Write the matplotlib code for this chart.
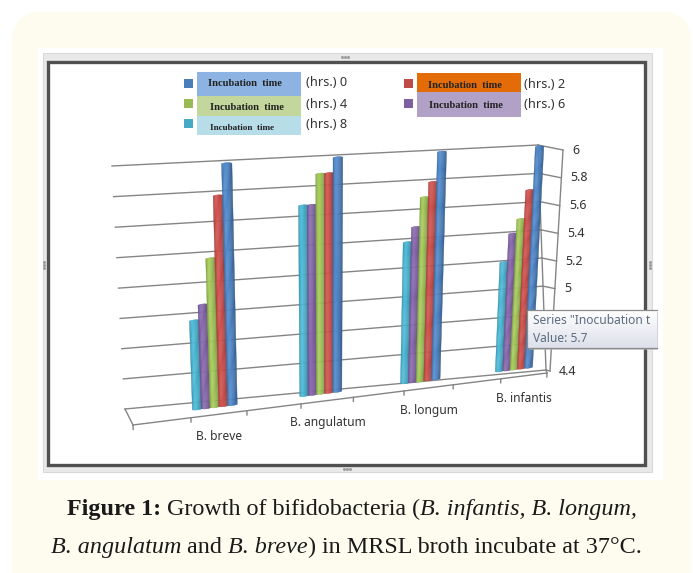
import numpy as np
import matplotlib
matplotlib.use('Agg')
import matplotlib.pyplot as plt
from matplotlib.patches import FancyBboxPatch, Rectangle
from matplotlib.transforms import Transform

# Datos
categories = ['B. breve', 'B. angulatum', 'B. longum', 'B. infantis']
hours = [8, 6, 4, 2, 0]
values_8 = [5.0, 5.7, 5.4, 5.2]
values_6 = [5.1, 5.7, 5.5, 5.4]
values_4 = [5.4, 5.9, 5.7, 5.5]
values_2 = [5.8, 5.9, 5.8, 5.7]
values_0 = [6.0, 6.0, 6.0, 6.0]
series = [values_8, values_6, values_4, values_2, values_0]
colors = ['#46aac5', '#7d60a0', '#98b954', '#be4b48', '#4a7ebb']

y_ticks = [4.4, 4.6, 4.8, 5.0, 5.2, 5.4, 5.6, 5.8, 6.0]
y_labels = ['4.4', '', '', '5', '5.2', '5.4', '5.6', '5.8', '6']
y_min, y_max = 4.4, 6.0
n_ticks = 8  # marcas del eje x (dos por categoria)


class Quad(Transform):
    # homografia: (u, v) en el rectangulo -> cuadrilatero en pixeles
    input_dims = 2
    output_dims = 2
    is_separable = False
    has_inverse = False

    def __init__(self, u_range, v_range, corners):
        super().__init__()
        src = [(u_range[0], v_range[1]), (u_range[0], v_range[0]),
               (u_range[1], v_range[0]), (u_range[1], v_range[1])]
        a, b = [], []
        for (u, v), (x, y) in zip(src, corners):
            a.append([u, v, 1, 0, 0, 0, -u * x, -v * x])
            a.append([0, 0, 0, u, v, 1, -u * y, -v * y])
            b += [x, y]
        self.h = np.append(np.linalg.solve(np.array(a), np.array(b)), 1).reshape(3, 3)

    def transform_non_affine(self, values):
        pts = np.column_stack([values, np.ones(len(values))]) @ self.h.T
        return pts[:, :2] / pts[:, 2:]


fig = plt.figure(figsize=(6.93, 5.73), dpi=100, facecolor='white')
ax = fig.add_axes([0, 0, 1, 1])
ax.set_xlim(0, 693)
ax.set_ylim(573, 0)
ax.set_autoscale_on(False)
ax.axis('off')

sans = 'Noto Sans'
serif = 'Liberation Serif'

# fondo y marco de la captura
ax.add_patch(FancyBboxPatch((42, 42), 619, 600, boxstyle='round,pad=30,rounding_size=30',
                            fc='#fefcee', ec='none', zorder=0))
ax.add_patch(Rectangle((38, 48), 625, 432, fc='white', ec='none', zorder=1))
ax.add_patch(Rectangle((43, 53), 609, 419, fc='#e9e9e9', ec='#d8d8d8', lw=0.8, zorder=1))
ax.add_patch(Rectangle((48, 62), 597, 403, fc='white', ec='#505050', lw=2.4, zorder=1))
for hx, hy in [(345, 57), (347, 469)]:
    ax.plot([hx - 3, hx, hx + 3], [hy] * 3, ls='none', marker='s', ms=1, color='#9a9a9a', zorder=2)
for hx, hy in [(44, 265), (650, 265)]:
    ax.plot([hx] * 3, [hy - 3, hy, hy + 3], ls='none', marker='s', ms=1, color='#9a9a9a', zorder=2)

wall_quad = Quad((0, n_ticks), (y_min, y_max), [(112, 166), (125, 409), (546, 370), (538, 145)])
wall = wall_quad + ax.transData
floor = Quad((0, n_ticks), (y_min, y_max), [(122, 177), (133, 425), (547, 373), (560, 154)]) + ax.transData
plane = Quad((0, n_ticks), (y_min, y_max), [(120, 169.7), (132, 417), (537.5, 366), (549, 146.5)]) + ax.transData

grid = '#858585'
side_ends = []
for val, lab in zip(y_ticks, y_labels):
    ax.plot([0, n_ticks], [val, val], color=grid, lw=1, transform=wall, zorder=2)
    # pared lateral: sale de la esquina hasta la marca del eje
    cx, cy = wall_quad.transform_non_affine(np.array([[n_ticks, val]]))[0]
    f = (val - y_min) / (y_max - y_min)
    ex, ey = cx + 4 + 21 * f, cy + 1 + 4 * f
    side_ends.append((ex, ey))
    ax.plot([cx, ex], [cy, ey], color=grid, lw=1, zorder=2)
    if lab:
        ax.text(ex + 9, ey, lab, ha='left', va='center', fontsize=9, family=sans, color='#333333', zorder=3)

# pared derecha y suelo
ax.plot([n_ticks, n_ticks], [y_min, y_max], color=grid, lw=1, transform=wall, zorder=2)
ax.plot([p[0] for p in side_ends], [p[1] for p in side_ends], color=grid, lw=1, zorder=2)
ax.plot([125, 133], [409, 425], color=grid, lw=1, zorder=2)
ax.plot([546, 547], [370, 373], color=grid, lw=1, zorder=2)
ax.plot([0, n_ticks], [y_min, y_min], color=grid, lw=1, transform=floor, zorder=2)
for t in range(n_ticks + 1):
    ax.plot([t, t], [y_min - 0.03, y_min], color=grid, lw=1, transform=floor, zorder=2)

# barras cilindricas
bar_step = 0.16
n_strips = 9
shade = [0.9, 1.03, 1.1, 1.1, 1.05, 1.0, 0.95, 0.87, 0.78]
for s, (vals, col) in enumerate(zip(series, colors)):
    rgb = np.array(matplotlib.colors.to_rgb(col))
    for i, val in enumerate(vals):
        center = 2 * i + 1.48 + (s - 2) * bar_step
        edges = np.linspace(center - 0.09, center + 0.09, n_strips + 1)
        for k in range(n_strips):
            t = (k + 0.5) / n_strips * 2 - 1
            cap = 0.008 * np.sqrt(1 - t * t)
            c = np.clip(rgb * shade[k], 0, 1)
            ax.fill([edges[k], edges[k + 1], edges[k + 1], edges[k]],
                    [y_min - cap, y_min - cap, val + cap, val + cap],
                    color=c, lw=0.3, transform=plane, zorder=4 + s)

# etiquetas de categoria
for i, cat in enumerate(categories):
    ax.annotate(cat, xy=(2 * i + 1.5, y_min), xycoords=floor, xytext=(0, -16), textcoords='offset points',
                ha='center', va='center', fontsize=8.6, family=sans, color='#333333', zorder=3)

# leyenda
leg_boxes = [(197, 72, 104, 24, '#8db3e2'), (197, 96, 104, 20, '#c3d69b'), (197, 116, 104, 19, '#b7dde8'),
             (417, 73, 104, 19, '#e36c09'), (417, 92, 104, 25, '#b2a1c7')]
leg_marks = [(184, 79, colors[4]), (184, 99, colors[2]), (184, 119, colors[0]), (404, 79, colors[3]), (404, 99, colors[1])]
leg_text = [(245, 84, 7.6), (247, 108, 7.6), (242, 128, 6.6), (465, 85, 7.6), (466, 105, 7.6)]
leg_hours = [(306, 83, 0), (306, 104, 4), (306, 125, 8), (524, 84, 2), (524, 104, 6)]
for x, y, w, h, c in leg_boxes:
    ax.add_patch(Rectangle((x, y), w, h, fc=c, ec='none', zorder=3))
for x, y, c in leg_marks:
    ax.add_patch(Rectangle((x, y), 9, 9, fc=c, ec='none', zorder=3))
for x, y, fs in leg_text:
    ax.text(x, y, 'Incubation  time', ha='center', va='center', family=serif, weight='bold',
            fontsize=fs, color='#222222', zorder=4)
for x, y, h in leg_hours:
    ax.text(x, y, f'(hrs.) {h}', ha='left', va='center', family=sans, fontsize=9.2, color='#333333', zorder=4)

# tooltip
ax.add_patch(Rectangle((529, 312), 129, 38, fc='#b5b5b5', ec='none', alpha=0.6, zorder=19))
tip_grad = np.linspace(1, 0, 32).reshape(-1, 1)
tip_img = np.dstack([0.87 + 0.13 * tip_grad, 0.88 + 0.12 * tip_grad, 0.92 + 0.08 * tip_grad])
ax.imshow(tip_img, extent=(527, 657, 348, 310), aspect='auto', zorder=20)
ax.set_xlim(0, 693)
ax.set_ylim(573, 0)
ax.plot([657, 527, 527, 657], [310, 310, 348, 348], color='#8a8a8a', lw=0.9, zorder=21)
for ty, txt in [(321, 'Series "Inocubation t'), (338, 'Value: 5.7')]:
    ax.text(533, ty, txt, ha='left', va='center', family=sans, fontsize=8.6, color='#5b6b80', zorder=22)


# pie de figura: varios estilos en una linea
def caption_line(parts, cx, y, size):
    renderer = fig.canvas.get_renderer()
    texts = [ax.text(0, y, s, family=serif, fontsize=size, weight=w, style=st, color='#1a1a1a',
                     va='baseline', ha='left', zorder=5) for s, w, st in parts]
    widths = [t.get_window_extent(renderer).width for t in texts]
    x = cx - sum(widths) / 2
    for t, w in zip(texts, widths):
        t.set_x(x)
        x += w


caption_line([('Figure 1: ', 'bold', 'normal'), ('Growth of bifidobacteria (', 'normal', 'normal'),
              ('B. infantis, B. longum,', 'normal', 'italic')], 352, 515, 17.4)
caption_line([('B. angulatum ', 'normal', 'italic'), ('and ', 'normal', 'normal'), ('B. breve', 'normal', 'italic'),
              (') in MRSL broth incubate at 37°C.', 'normal', 'normal')], 346, 553, 17.4)

fig.savefig('out.png', dpi=100)
